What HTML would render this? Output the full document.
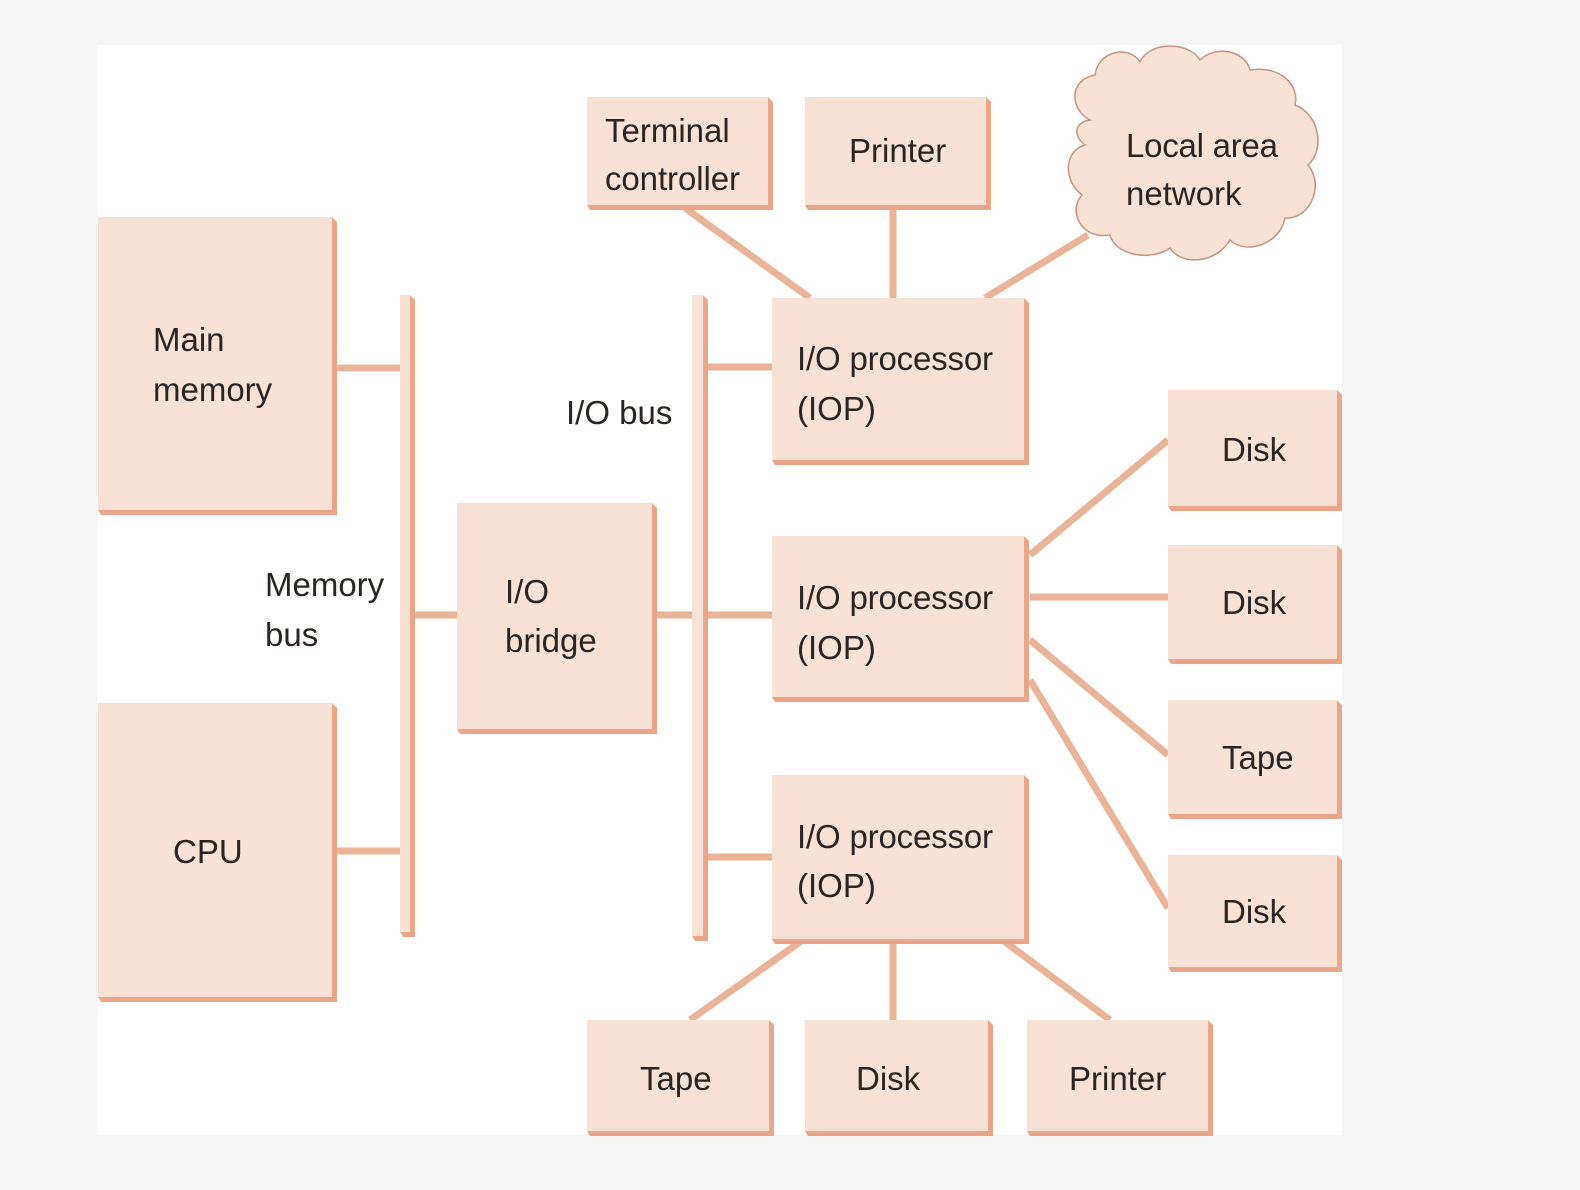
<!DOCTYPE html>
<html><head><style>
html,body{margin:0;padding:0;background:#f6f6f6;}
svg{display:block;}
text{font-family:"Liberation Sans",sans-serif;font-size:33px;fill:#2a2422;}
</style></head><body>
<svg width="1580" height="1190" viewBox="0 0 1580 1190">
<rect x="0" y="0" width="1580" height="1190" fill="#f6f6f6"/>
<rect x="97" y="45" width="1245" height="1090" fill="#ffffff"/>
<g stroke="#ebb498" stroke-width="7" fill="none">
<line x1="335" y1="368" x2="400" y2="368"/>
<line x1="335" y1="851" x2="400" y2="851"/>
<line x1="414" y1="615" x2="457" y2="615"/>
<line x1="656" y1="615" x2="692" y2="615"/>
<line x1="707" y1="367" x2="772" y2="367"/>
<line x1="707" y1="615" x2="772" y2="615"/>
<line x1="707" y1="857" x2="772" y2="857"/>
<line x1="685" y1="208" x2="810" y2="298"/>
<line x1="893" y1="208" x2="893" y2="298"/>
<line x1="1088" y1="235" x2="985" y2="298"/>
<line x1="1030" y1="555" x2="1168" y2="440"/>
<line x1="1030" y1="597" x2="1168" y2="597"/>
<line x1="1030" y1="640" x2="1168" y2="755"/>
<line x1="1030" y1="680" x2="1168" y2="908"/>
<line x1="800" y1="942" x2="690" y2="1020"/>
<line x1="893" y1="942" x2="893" y2="1020"/>
<line x1="1005" y1="942" x2="1110" y2="1020"/>
</g>
<g fill="#f8e2d5" stroke="#e6a483" stroke-width="1.5">
<!-- boxes: shadow drawn as polygon edges -->
</g>
<g id="boxes">
<g>
<path d="M332,217 L337,222 L337,515 L101,515 L98,510 Z" fill="#eba588"/>
<rect x="98" y="217" width="234" height="293" fill="#f8e2d5"/>
</g>
<g>
<path d="M332,703 L337,708 L337,1002 L101,1002 L98,997 Z" fill="#eba588"/>
<rect x="98" y="703" width="234" height="294" fill="#f8e2d5"/>
</g>
<g>
<path d="M410,295 L415,300 L415,937 L403,937 L400,932 Z" fill="#eba588"/>
<rect x="400" y="295" width="10" height="637" fill="#f8e2d5"/>
</g>
<g>
<path d="M703,295 L708,300 L708,941 L695,941 L692,936 Z" fill="#eba588"/>
<rect x="692" y="295" width="11" height="641" fill="#f8e2d5"/>
</g>
<g>
<path d="M652,503 L657,508 L657,734 L460,734 L457,729 Z" fill="#eba588"/>
<rect x="457" y="503" width="195" height="226" fill="#f8e2d5"/>
</g>
<g>
<path d="M1024,298 L1029,303 L1029,465 L775,465 L772,460 Z" fill="#eba588"/>
<rect x="772" y="298" width="252" height="162" fill="#f8e2d5"/>
</g>
<g>
<path d="M1024,536 L1029,541 L1029,702 L775,702 L772,697 Z" fill="#eba588"/>
<rect x="772" y="536" width="252" height="161" fill="#f8e2d5"/>
</g>
<g>
<path d="M1024,775 L1029,780 L1029,944 L775,944 L772,939 Z" fill="#eba588"/>
<rect x="772" y="775" width="252" height="164" fill="#f8e2d5"/>
</g>
<g>
<path d="M768,97 L773,102 L773,210 L590,210 L587,205 Z" fill="#eba588"/>
<rect x="587" y="97" width="181" height="108" fill="#f8e2d5"/>
</g>
<g>
<path d="M986,97 L991,102 L991,210 L808,210 L805,205 Z" fill="#eba588"/>
<rect x="805" y="97" width="181" height="108" fill="#f8e2d5"/>
</g>
<g>
<path d="M1337,390 L1342,395 L1342,511 L1171,511 L1168,506 Z" fill="#eba588"/>
<rect x="1168" y="390" width="169" height="116" fill="#f8e2d5"/>
</g>
<g>
<path d="M1337,545 L1342,550 L1342,664 L1171,664 L1168,659 Z" fill="#eba588"/>
<rect x="1168" y="545" width="169" height="114" fill="#f8e2d5"/>
</g>
<g>
<path d="M1337,700 L1342,705 L1342,819 L1171,819 L1168,814 Z" fill="#eba588"/>
<rect x="1168" y="700" width="169" height="114" fill="#f8e2d5"/>
</g>
<g>
<path d="M1337,855 L1342,860 L1342,972 L1171,972 L1168,967 Z" fill="#eba588"/>
<rect x="1168" y="855" width="169" height="112" fill="#f8e2d5"/>
</g>
<g>
<path d="M769,1020 L774,1025 L774,1136 L590,1136 L587,1131 Z" fill="#eba588"/>
<rect x="587" y="1020" width="182" height="111" fill="#f8e2d5"/>
</g>
<g>
<path d="M988,1020 L993,1025 L993,1136 L808,1136 L805,1131 Z" fill="#eba588"/>
<rect x="805" y="1020" width="183" height="111" fill="#f8e2d5"/>
</g>
<g>
<path d="M1208,1020 L1213,1025 L1213,1136 L1030,1136 L1027,1131 Z" fill="#eba588"/>
<rect x="1027" y="1020" width="181" height="111" fill="#f8e2d5"/>
</g>
</g>
<!-- cloud -->
<path d="M1090,120 C1070,110 1068,80 1095,75 C1098,50 1130,45 1140,62 C1150,40 1190,42 1200,60 C1215,45 1245,50 1250,70 C1280,65 1300,85 1295,105 C1320,115 1325,150 1308,165 C1325,185 1310,220 1285,218 C1280,245 1245,255 1230,240 C1215,265 1180,265 1170,248 C1150,262 1115,255 1110,235 C1080,240 1068,210 1082,195 C1062,180 1065,150 1085,145 C1072,135 1075,122 1090,120 Z" fill="#f8e2d5" stroke="#c79480" stroke-width="1.5"/>
<text x="153" y="351">Main</text>
<text x="153" y="401">memory</text>
<text x="173" y="863">CPU</text>
<text x="265" y="596">Memory</text>
<text x="265" y="646">bus</text>
<text x="566" y="424">I/O bus</text>
<text x="505" y="603">I/O</text>
<text x="505" y="652">bridge</text>
<text x="797" y="370" textLength="196">I/O processor</text>
<text x="797" y="420">(IOP)</text>
<text x="797" y="609" textLength="196">I/O processor</text>
<text x="797" y="659">(IOP)</text>
<text x="797" y="848" textLength="196">I/O processor</text>
<text x="797" y="897">(IOP)</text>
<text x="605" y="142">Terminal</text>
<text x="605" y="190" textLength="135">controller</text>
<text x="849" y="162">Printer</text>
<text x="1126" y="157" textLength="152">Local area</text>
<text x="1126" y="205">network</text>
<text x="1222" y="461">Disk</text>
<text x="1222" y="614">Disk</text>
<text x="1222" y="769">Tape</text>
<text x="1222" y="923">Disk</text>
<text x="640" y="1090">Tape</text>
<text x="856" y="1090">Disk</text>
<text x="1069" y="1090">Printer</text>
</svg>
</body></html>
